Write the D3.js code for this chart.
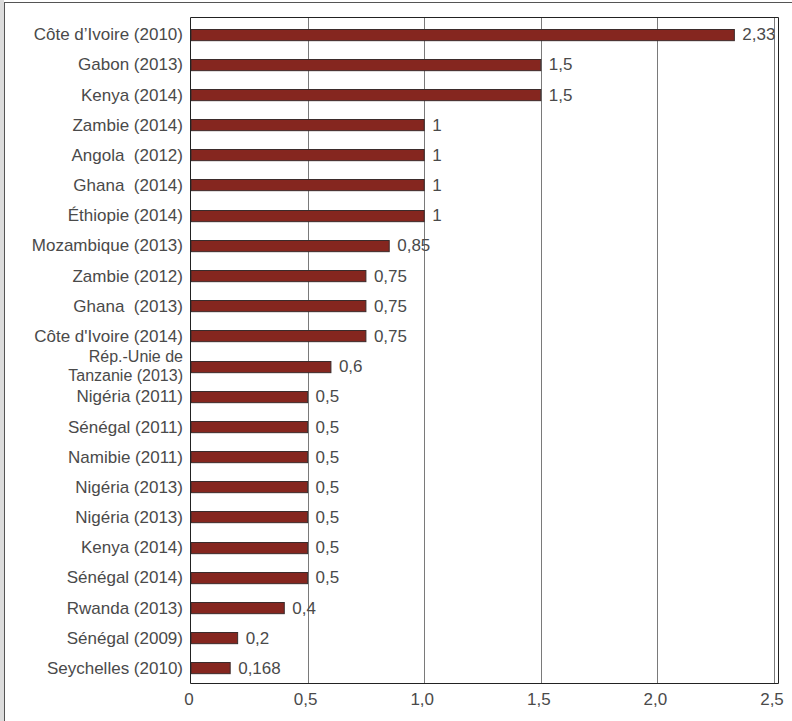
<!DOCTYPE html>
<html>
<head>
<meta charset="utf-8">
<script src="https://cdn.jsdelivr.net/npm/d3@7"></script>
<style>
  body { margin: 0; background: #fff; }
  svg text { font-family: "Liberation Sans", Arial, sans-serif; fill: #4a4a4a; white-space: pre; }
</style>
</head>
<body>
<div id="chart"></div>
<script>
//Width and height
var w = 792;
var h = 721;

//Data, top to bottom
var categories = [
    "Côte d’Ivoire (2010)", "Gabon (2013)", "Kenya (2014)", "Zambie (2014)",
    "Angola  (2012)", "Ghana  (2014)", "Éthiopie (2014)", "Mozambique (2013)",
    "Zambie (2012)", "Ghana  (2013)", "Côte d'Ivoire (2014)",
    "Rép.-Unie de|Tanzanie (2013)", "Nigéria (2011)", "Sénégal (2011)",
    "Namibie (2011)", "Nigéria (2013)", "Nigéria (2013)", "Kenya (2014)",
    "Sénégal (2014)", "Rwanda (2013)", "Sénégal (2009)", "Seychelles (2010)"
];
var values = [2.33, 1.5, 1.5, 1, 1, 1, 1, 0.85, 0.75, 0.75, 0.75, 0.6,
    0.5, 0.5, 0.5, 0.5, 0.5, 0.5, 0.5, 0.4, 0.2, 0.168];
var valueLabels = ["2,33", "1,5", "1,5", "1", "1", "1", "1", "0,85", "0,75",
    "0,75", "0,75", "0,6", "0,5", "0,5", "0,5", "0,5", "0,5", "0,5", "0,5",
    "0,4", "0,2", "0,168"];
var xTicks = [0, 0.5, 1, 1.5, 2, 2.5];
var xTickLabels = ["0", "0,5", "1,0", "1,5", "2,0", "2,5"];

var rows = categories.map(function (c, i) {
    return { name: c, value: values[i], label: valueLabels[i] };
});

var svg = d3.select("#chart")
    .append("svg")
    .attr("width", w)
    .attr("height", h);

//outer frame
svg.append("rect")
    .attr("x", 0).attr("y", 0)
    .attr("width", 4).attr("height", h)
    .attr("fill", "#dcdcdc");
svg.append("rect")
    .attr("x", 4.5).attr("y", 2.5)
    .attr("width", w + 10).attr("height", h + 10)
    .attr("fill", "none")
    .attr("stroke", "#555");

//scales
var x = d3.scaleLinear()
    .domain([0, 2.5])
    .range([191, 774]);

var y = d3.scaleBand()
    .domain(d3.range(categories.length))
    .range([19, 683])
    .paddingInner(0.63)
    .paddingOuter(0.315);

var plotLeft = 190.5, plotRight = 778.5, plotTop = 17.5, plotBottom = 683.5;
var fs = "17px";

//gridlines
svg.append("g")
    .selectAll("line")
    .data(xTicks.slice(1))
    .enter()
    .append("line")
    .attr("x1", function (d) { return Math.round(x(d)) + 0.5; })
    .attr("x2", function (d) { return Math.round(x(d)) + 0.5; })
    .attr("y1", plotTop)
    .attr("y2", plotBottom)
    .attr("stroke", "#7a7a7a")
    .attr("stroke-width", 1);

//bars
svg.append("g")
    .selectAll("rect")
    .data(rows)
    .enter()
    .append("rect")
    .attr("x", x(0))
    .attr("y", function (d, i) { return Math.round(y(i)) + 0.5; })
    .attr("width", function (d) { return x(d.value) - x(0); })
    .attr("height", y.bandwidth())
    .attr("fill", "#85261f")
    .attr("stroke", "#3b2b2b")
    .attr("stroke-width", 1);

//value labels
svg.append("g")
    .selectAll("text")
    .data(rows)
    .enter()
    .append("text")
    .attr("x", function (d) { return x(d.value) + 8; })
    .attr("y", function (d, i) { return y(i) + y.bandwidth() / 2; })
    .attr("dy", "0.36em")
    .attr("font-size", fs)
    .text(function (d) { return d.label; });

//plot frame
svg.append("path")
    .attr("d", "M" + plotLeft + "," + plotTop + "H" + plotRight + "V" + plotBottom + "H" + plotLeft + "Z")
    .attr("fill", "none")
    .attr("stroke", "#222")
    .attr("stroke-width", 1);

//category labels (two-line label split on "|")
var cat = svg.append("g")
    .selectAll("text")
    .data(rows)
    .enter()
    .append("text")
    .attr("x", 183)
    .attr("y", function (d, i) { return y(i) + y.bandwidth() / 2; })
    .attr("text-anchor", "end")
    .attr("font-size", function (d) { return d.name.indexOf("|") >= 0 ? "16px" : fs; });

cat.each(function (d) {
    var parts = d.name.split("|");
    var t = d3.select(this);
    parts.forEach(function (p, k) {
        t.append("tspan")
            .attr("x", 183)
            .attr("dy", k === 0 ? (0.36 - (parts.length - 1) * 0.6) + "em" : "1.2em")
            .text(p);
    });
});

//x axis labels
svg.append("g")
    .selectAll("text")
    .data(xTicks)
    .enter()
    .append("text")
    .attr("x", function (d) { return x(d) - 2; })
    .attr("y", 705)
    .attr("text-anchor", "middle")
    .attr("font-size", fs)
    .text(function (d, i) { return xTickLabels[i]; });
</script>
</body>
</html>
